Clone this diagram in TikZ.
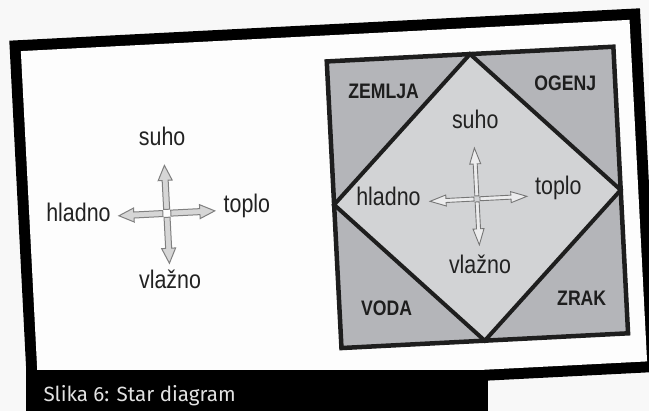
\documentclass[tikz,border=0pt]{standalone}
\usepackage{fontspec}
\setmainfont{Liberation Sans}
\newfontfamily\labelfont[FakeStretch=0.84]{Liberation Sans}
\newfontfamily\captionfont{Fira Sans}

\definecolor{pagebg}{RGB}{248,248,248}
\definecolor{paper}{RGB}{253,253,253}
\definecolor{cornergray}{RGB}{180,181,185}
\definecolor{diamondgray}{RGB}{210,211,213}
\definecolor{edgedark}{RGB}{30,30,30}
\definecolor{labeltext}{RGB}{34,34,34}
\definecolor{captiontext}{RGB}{226,226,226}
\definecolor{arrowfillA}{RGB}{214,214,214}
\definecolor{arrowlineA}{RGB}{128,128,128}
\definecolor{arrowfillB}{RGB}{236,236,237}
\definecolor{arrowlineB}{RGB}{118,118,118}

% block arrow: #2 centre, #3 direction, #4 tip distance
\def\arrS{4}\def\arrA{3}\def\arrB{7}\def\arrH{15}
\newcommand\crossarrow[4][]{%
  \begin{scope}[shift={(#2)}, rotate=#3]
    \filldraw[#1] (\arrS,\arrA) -- (#4-\arrH,\arrA) -- (#4-\arrH,\arrB) -- (#4,0)
      -- (#4-\arrH,-\arrB) -- (#4-\arrH,-\arrA) -- (\arrS,-\arrA) -- cycle;
  \end{scope}}

\tikzset{
  word/.style={font=\labelfont\fontsize{25.5}{25.5}\selectfont, text=labeltext,
    inner sep=0pt, anchor=center, text height=0.72em, text depth=0pt},
  element/.style={font=\labelfont\bfseries\fontsize{21}{21}\selectfont, text=edgedark,
    inner sep=0pt, anchor=center, text height=0.716em, text depth=0pt},
  arrowA/.style={fill=arrowfillA, draw=arrowlineA, line width=1pt, line join=miter},
  arrowB/.style={fill=arrowfillB, draw=arrowlineB, line width=0.9pt, line join=miter},
  captionlabel/.style={font=\captionfont\fontsize{20.6}{20.6}\selectfont, text=captiontext,
    inner sep=0pt, anchor=base west},
}

\begin{document}
\begin{tikzpicture}[x=1pt, y=1pt]
  \fill[pagebg] (0,0) rectangle (649,-411);
  \useasboundingbox (0,0) rectangle (649,-411);

  \begin{scope}[shift={(9.3,-40.7)}, rotate=2.94]
    % black frame and paper
    \fill[black] (0,0) rectangle (631.5,-364);
    \fill[paper] (11,-11) rectangle (620.5,-353);

    % ---------- left: the four qualities ----------
    \coordinate (lc) at (148.5,-180.5);
    \crossarrow[arrowA]{lc}{90}{48}
    \crossarrow[arrowA]{lc}{180}{48}
    \crossarrow[arrowA]{lc}{0}{48}
    \crossarrow[arrowA]{lc}{-90}{50}
    \node[word] (lsuho) at (147.5,-108.5) {suho};
    \node[word] (lhladno) at (60,-180.7) {hladno};
    \node[word, text depth=0.21em] (ltoplo) at (228.6,-181.2) {toplo};
    \node[word] (lvlazno) at (148,-252.1) {vlažno};

    % ---------- right: square of the elements ----------
    \coordinate (sqTL) at (316,-37);
    \coordinate (sqTR) at (603,-37);
    \coordinate (sqBR) at (603,-324);
    \coordinate (sqBL) at (316,-324);
    \coordinate (dT) at (459.5,-37);
    \coordinate (dR) at (603,-180.5);
    \coordinate (dB) at (459.5,-324);
    \coordinate (dL) at (316,-180.5);
    \fill[cornergray] (sqTL) rectangle (sqBR);
    \fill[diamondgray] (dT) -- (dR) -- (dB) -- (dL) -- cycle;
    \draw[edgedark, line width=4pt, line join=miter] (dT) -- (dR) -- (dB) -- (dL) -- cycle;
    \draw[edgedark, line width=4.5pt, line join=miter] (sqTL) rectangle (sqBR);

    \node[element] (zemlja) at (371,-73.5) {ZEMLJA};
    \node[element] (ogenj) at (552.8,-74.7) {OGENJ};
    \node[element] (voda) at (363,-290) {VODA};
    \node[element] (zrak) at (558.3,-290) {ZRAK};

    \def\arrS{3}\def\arrA{2}\def\arrB{5.5}\def\arrH{16}
    \coordinate (rc) at (459,-182);
    \crossarrow[arrowB]{rc}{90}{51}
    \crossarrow[arrowB]{rc}{180}{47}
    \crossarrow[arrowB]{rc}{0}{50}
    \crossarrow[arrowB]{rc}{-90}{46}
    \node[word] (rsuho) at (461,-108.3) {suho};
    \node[word] (rhladno) at (370.4,-180.3) {hladno};
    \node[word, text depth=0.21em] (rtoplo) at (540.6,-179.2) {toplo};
    \node[word] (rvlazno) at (458.3,-253.3) {vlažno};
  \end{scope}

  % caption bar
  \fill[black] (26,-370) rectangle (488,-411);
  \node[captionlabel] (caption) at (43.3,-401.7) {Slika 6: Star diagram};
\end{tikzpicture}
\end{document}
